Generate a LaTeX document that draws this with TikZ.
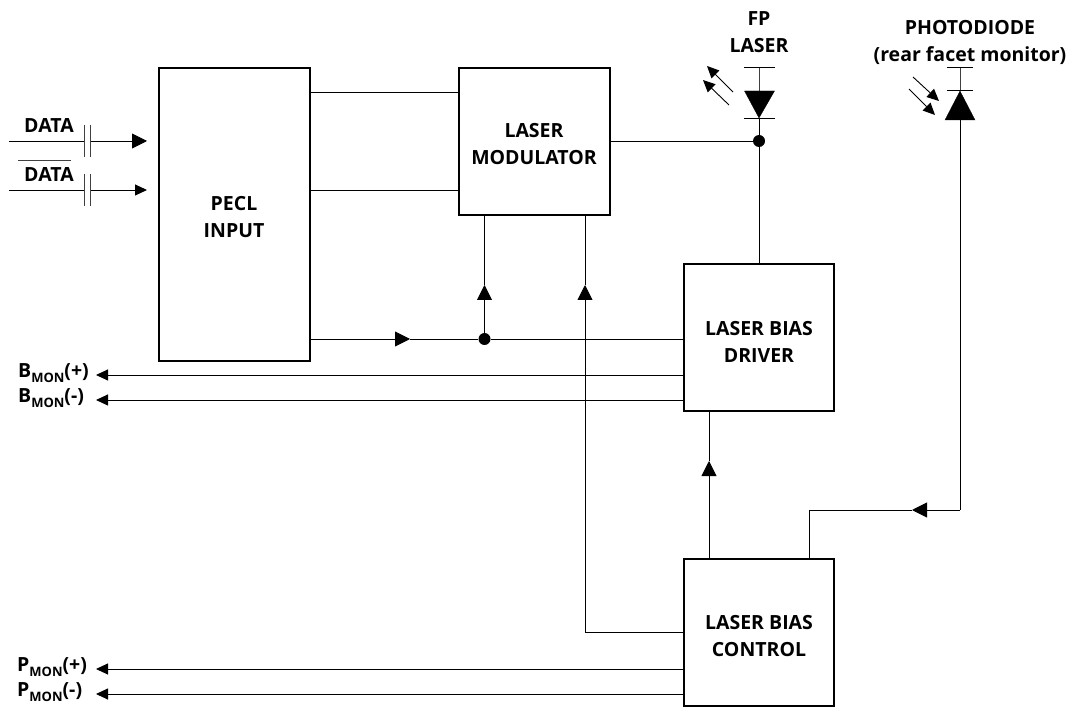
\documentclass[tikz,border=0pt]{standalone}
\usepackage{fontspec}
\setmainfont{Open Sans}
\usetikzlibrary{arrows.meta}
\newcommand{\monlabel}[2]{#1\raisebox{-5pt}{\fontsize{13}{13}\selectfont MON}#2}
\begin{document}
\begin{tikzpicture}[x=1pt, y=-1pt]
	\tikzset{
		block/.style={draw=black, line width=1.6pt, inner sep=0pt},
		lbl/.style={align=center, font=\fontsize{19.5}{27.5}\selectfont\bfseries, inner sep=0pt},
		wire/.style={draw=black, line width=0.9pt},
		tip/.style={wire, -{Triangle[length=15pt, width=15pt]}},
		smalltip/.style={wire, -{Triangle[length=12pt, width=11pt]}},
		dot/.style={circle, fill=black, minimum width=12pt, inner sep=0pt},
		plate/.style={draw=black!75, line width=0.9pt}
	};
	\useasboundingbox (0, 0) rectangle (1071, 708);

	\node[block, minimum width=151pt, minimum height=293pt] (pecl) at (234.5, 214.5) {};
	\node[block, minimum width=151pt, minimum height=147pt] (mod) at (534.5, 141.5) {};
	\node[block, minimum width=150pt, minimum height=147pt] (driver) at (759, 337.5) {};
	\node[block, minimum width=150pt, minimum height=147pt] (control) at (759, 632.5) {};

	\node[lbl] (pecltxt) at (234, 217) {PECL\\INPUT};
	\node[lbl] (modtxt) at (534, 144) {LASER\\MODULATOR};
	\node[lbl] (drivertxt) at (759, 342) {LASER BIAS\\DRIVER};
	\node[lbl] (controltxt) at (759, 636) {LASER BIAS\\CONTROL};
	\node[lbl] (fptxt) at (759, 32) {FP\\LASER};
	\node[lbl] (pdtxt) at (970, 42.5) {PHOTODIODE\\(rear facet monitor)};
	\node[lbl] (data1txt) at (49, 126) {DATA};
	\node[lbl] (data2txt) at (49, 175) {DATA};
	\node[lbl, anchor=west] (bplus) at (18, 373) {\monlabel{B}{(+)}};
	\node[lbl, anchor=west] (bminus) at (18, 398) {\monlabel{B}{(-)}};
	\node[lbl, anchor=west] (pplus) at (17, 667) {\monlabel{P}{(+)}};
	\node[lbl, anchor=west] (pminus) at (17, 692) {\monlabel{P}{(-)}};

	\node[dot] (j1) at (484.5, 339) {};
	\node[dot] (j2) at (759, 141) {};

	% inputs
	\coordinate (in1) at (9, 141);
	\coordinate (in2) at (9, 190);
	\coordinate (c1a) at (84, 141);
	\coordinate (c1b) at (90, 141);
	\coordinate (c2a) at (84, 190);
	\coordinate (c2b) at (90, 190);
	\coordinate (e1) at (147, 141);
	\coordinate (e2) at (147, 190);
	\draw[wire] (in1) to (c1a);
	\draw[wire] (in2) to (c2a);
	\draw[tip] (c1b) to (e1);
	\draw[smalltip] (c2b) to (e2);
	\draw[plate] (84, 125) to (84, 157);
	\draw[plate] (90, 125) to (90, 157);
	\draw[plate] (84, 174) to (84, 206);
	\draw[plate] (90, 174) to (90, 206);
	\draw[plate] (18, 160) to (71, 160);

	% pecl to modulator
	\draw[wire] (pecl.east |- 0, 92) to (mod.west |- 0, 92);
	\draw[wire] (pecl.east |- 0, 190) to (mod.west |- 0, 190);
	\coordinate (t1) at (410, 339);
	\draw[tip] (pecl.east |- t1) to (t1);
	\draw[wire] (t1) to (j1);
	\draw[wire] (j1) to (driver.west |- j1);
	\coordinate (t2) at (484.5, 285);
	\draw[tip] (j1) to (t2);
	\draw[wire] (t2) to (mod.south -| t2);

	% modulator feedback
	\coordinate (t3) at (585, 285);
	\coordinate (k1) at (585, 632);
	\draw[wire] (mod.south -| t3) to (t3);
	\draw[tip] (k1) to (t3);
	\draw[wire] (k1) to (control.west |- k1);

	% laser
	\draw[wire] (mod.east |- j2) to (j2);
	\draw[wire] (j2) to (driver.north);
	\coordinate (la) at (759, 118);
	\coordinate (lt) at (759, 67);
	\coordinate (lb) at (759, 91);
	\draw[wire] (j2) to (la);
	\draw[plate] (lt) to (lb);
	\filldraw[line width=0.3pt] (744.5, 91) -- (774.5, 91) -- (la) -- cycle;
	\draw[wire] (744, 67) to (775, 67);
	\draw[wire] (744, 118) to (775, 118);
	\draw[smalltip] (733, 92) to (707, 66);
	\draw[smalltip] (729, 105) to (703, 80);

	% photodiode
	\coordinate (pa) at (960, 91);
	\coordinate (pb) at (960, 120);
	\coordinate (pt) at (960, 67);
	\coordinate (k2) at (960, 510);
	\coordinate (k3) at (809, 510);
	\coordinate (t4) at (912, 510);
	\draw[plate] (pt) to (pa);
	\filldraw[line width=0.3pt] (945, 120) -- (975, 120) -- (pa) -- cycle;
	\draw[wire] (947, 67) to (973, 67);
	\draw[wire] (947, 90) to (973, 90);
	\draw[smalltip] (913, 77) to (939, 101);
	\draw[smalltip] (909, 89) to (935, 115);
	\draw[wire] (pb) to (k2);
	\draw[tip] (k2) to (t4);
	\draw[wire] (t4) to (k3);
	\draw[wire] (k3) to (control.north -| k3);

	% control to driver
	\coordinate (t5) at (709, 461);
	\draw[tip] (control.north -| t5) to (t5);
	\draw[wire] (t5) to (driver.south -| t5);

	% monitor outputs
	\coordinate (bp) at (96, 375);
	\coordinate (bm) at (96, 400);
	\coordinate (pp) at (96, 669);
	\coordinate (pm) at (96, 694);
	\draw[smalltip] (driver.west |- bp) to (bp);
	\draw[smalltip] (driver.west |- bm) to (bm);
	\draw[smalltip] (control.west |- pp) to (pp);
	\draw[smalltip] (control.west |- pm) to (pm);
\end{tikzpicture}
\end{document}
